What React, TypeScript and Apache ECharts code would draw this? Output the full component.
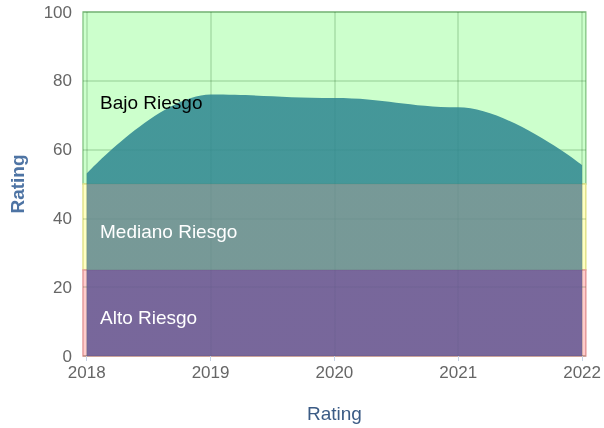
import React, { useEffect, useRef } from "react";
import * as echarts from "echarts";

const years = [2018, 2019, 2020, 2021, 2022];
const ratings = [53, 76, 75, 72.3, 55.5];
const yTicks = [0, 20, 40, 60, 80, 100];
const bandNames = ["Bajo Riesgo", "Mediano Riesgo", "Alto Riesgo"];
const bandRanges = [
  [50, 100],
  [25, 50],
  [0, 25],
];
const bandFills = ["#ccffcc", "#ffffc4", "#ffcccc"];
const bandBorders = ["#8fcc8f", "#e2e28a", "#e59a9a"];
const bandLabelColors = ["#000000", "#ffffff", "#ffffff"];
const areaColors = ["rgb(50,137,146)", "rgb(100,139,145)", "rgb(101,89,148)"];
const xStart = 2017.97;
const xEnd = 2022.03;

export default function App() {
  const ref = useRef<HTMLDivElement>(null);
  useEffect(() => {
    if (!ref.current) return;
    const chart = echarts.init(ref.current, null, { renderer: "svg" });
    const font = "'Liberation Sans', Arial, sans-serif";
    const gridLine = { color: "rgba(0,70,0,0.18)", width: 1.5 };
    chart.setOption({
      animation: false,
      textStyle: { fontFamily: font },
      grid: { left: 83, right: 17, top: 12, bottom: 72 },
      xAxis: {
        type: "value",
        min: xStart,
        max: xEnd,
        z: 1,
        name: "Rating",
        nameLocation: "middle",
        nameGap: 48,
        nameTextStyle: { color: "#3b5b85", fontSize: 19, fontFamily: font },
        axisLine: { show: false },
        axisTick: {
          show: true,
          customValues: years,
          length: 5,
          lineStyle: { color: "#c6d2e4" },
        },
        axisLabel: {
          customValues: years,
          formatter: (v: number) => String(Math.round(v)),
          color: "#666666",
          fontSize: 17,
          margin: 8,
        },
        splitLine: { show: true, lineStyle: gridLine },
      },
      yAxis: {
        type: "value",
        min: 0,
        max: 100,
        interval: 20,
        z: 1,
        name: "Rating",
        nameLocation: "middle",
        nameGap: 56,
        nameTextStyle: {
          color: "#4e74a4",
          fontSize: 19,
          fontWeight: "bold",
          fontFamily: font,
        },
        axisLine: { show: false },
        axisTick: { show: false },
        axisLabel: {
          color: "#666666",
          fontSize: 17,
          margin: 11,
          formatter: (v: number) => (yTicks.includes(v) ? String(v) : ""),
        },
        splitLine: { show: true, lineStyle: gridLine },
      },
      visualMap: {
        type: "piecewise",
        show: false,
        dimension: 1,
        seriesIndex: 1,
        pieces: [
          { gte: bandRanges[0][0], color: areaColors[0] },
          { gte: bandRanges[1][0], lt: bandRanges[1][1], color: areaColors[1] },
          { lt: bandRanges[2][1], color: areaColors[2] },
        ],
      },
      series: [
        {
          type: "line",
          z: -1,
          data: [],
          silent: true,
          markArea: {
            silent: true,
            z: -1,
            data: bandRanges.map((r, i) => [
              {
                xAxis: xStart,
                yAxis: r[1],
                itemStyle: {
                  color: bandFills[i],
                  borderColor: bandBorders[i],
                  borderWidth: 1.5,
                },
              },
              { xAxis: xEnd, yAxis: r[0] },
            ]),
          },
        },
        {
          type: "line",
          z: 2,
          data: years.map((y, i) => [y, ratings[i]]),
          smooth: 0.4,
          smoothMonotone: "x",
          showSymbol: false,
          symbol: "none",
          lineStyle: { width: 0 },
          areaStyle: { opacity: 0.88 },
        },
        {
          type: "line",
          z: 5,
          data: [],
          silent: true,
          markArea: {
            silent: true,
            z: 5,
            data: bandRanges.map((r, i) => [
              {
                name: bandNames[i],
                xAxis: xStart,
                yAxis: r[1],
                itemStyle: { color: "rgba(0,0,0,0)" },
                label: {
                  show: true,
                  position: "insideLeft",
                  distance: 17,
                  offset: [0, 4],
                  color: bandLabelColors[i],
                  fontSize: 19,
                  fontFamily: font,
                },
              },
              { xAxis: xEnd, yAxis: r[0] },
            ]),
          },
        },
      ],
    });
    return () => chart.dispose();
  }, []);
  return (
    <div
      ref={ref}
      style={{ position: "fixed", left: 0, top: 0, width: 604, height: 428 }}
    />
  );
}
